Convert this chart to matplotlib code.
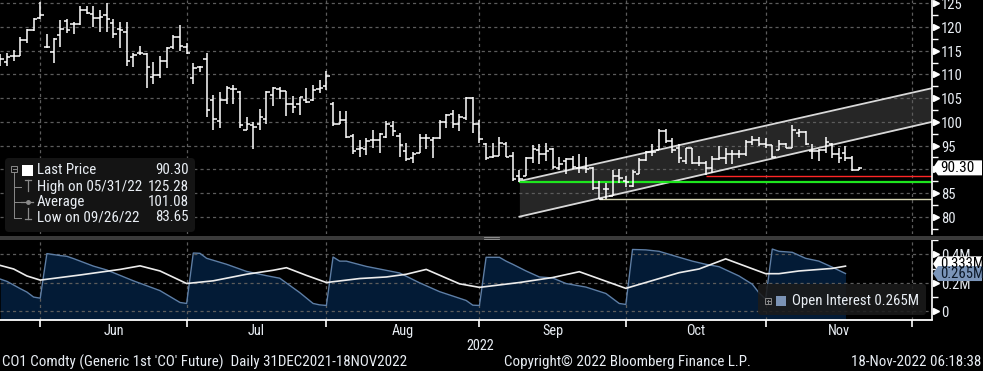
import matplotlib
matplotlib.use("Agg")
import matplotlib.pyplot as plt
import matplotlib.transforms as mtrans
from matplotlib import font_manager
from matplotlib.patches import FancyBboxPatch, Polygon, Rectangle
from matplotlib.lines import Line2D
from matplotlib.ticker import MultipleLocator
import numpy as np
import pandas as pd


def first_font(names):
    for name in names:
        try:
            font_manager.findfont(name, fallback_to_default=False)
            return name
        except ValueError:
            continue
    return "DejaVu Sans"


FONT = first_font(["Liberation Sans Narrow", "Roboto Condensed", "DejaVu Sans"])
plt.rcParams["font.family"] = [FONT, "DejaVu Sans"]

# --- data: CO1 daily bars, 23 May 2022 .. 18 Nov 2022 ---
first_day, last_axis_day = "2022-05-23", "2022-11-30"
opens = [113.28, 112.57, 113.98, 113.98, 117.30, 119.28, 121.96, 115.89, 114.69, 118.22,
         121.26, 120.55, 120.55, 123.52, 122.67, 121.96, 122.46, 120.83, 119.63, 118.93,
         113.63, 114.48, 114.34, 109.39, 109.96, 112.78, 115.75, 117.87, 115.75, 109.25,
         111.51, 113.28, 104.59, 100.25, 104.60, 106.90, 106.21, 98.23, 99.36, 99.65,
         100.56, 105.72, 106.92, 106.43, 103.74, 103.74, 104.59, 104.59, 106.92, 107.63,
         103.74, 99.65, 100.36, 97.04, 94.21, 94.21, 96.12, 96.12, 96.83, 99.16,
         97.04, 93.86, 92.31, 93.51, 96.54, 96.12, 96.54, 100.07, 101.63, 99.65,
         100.78, 105.02, 99.65, 95.41, 92.59, 92.80, 95.41, 92.80, 88.56, 88.56,
         92.31, 94.06, 93.29, 94.21, 90.19, 91.74, 92.09, 90.19, 90.19, 90.19,
         85.95, 85.74, 84.33, 88.56, 87.50, 86.47, 89.00, 91.88, 93.72, 94.00,
         98.09, 95.97, 94.42, 91.74, 94.42, 91.38, 91.38, 90.18, 92.09, 92.30,
         93.29, 93.15, 93.15, 95.83, 96.11, 95.41, 95.13, 94.00, 95.27, 94.56,
         97.60, 97.95, 93.86, 93.86, 94.00, 95.27, 93.29, 93.40, 92.44, 89.90]
highs = [114.34, 114.55, 115.18, 117.87, 119.63, 121.96, 125.28, 118.57, 117.66, 121.40,
         121.75, 121.05, 124.36, 124.36, 124.36, 123.52, 125.07, 121.75, 121.05, 121.05,
         114.48, 116.10, 114.48, 112.57, 113.98, 115.89, 118.22, 120.34, 116.60, 112.36,
         111.86, 114.55, 105.72, 106.37, 107.56, 107.78, 106.43, 101.06, 100.07, 102.68,
         106.43, 107.42, 107.42, 106.57, 105.51, 105.16, 107.13, 107.84, 108.83, 110.66,
         104.24, 102.33, 102.33, 97.39, 96.12, 96.54, 98.24, 97.74, 100.22, 100.22,
         97.74, 95.62, 93.72, 97.39, 97.53, 96.83, 100.36, 101.63, 102.48, 101.63,
         105.30, 105.30, 100.36, 95.62, 95.62, 96.83, 95.83, 93.72, 89.76, 92.59,
         95.13, 95.41, 95.62, 94.57, 92.59, 92.31, 92.80, 93.29, 92.59, 90.47,
         87.50, 87.15, 89.76, 89.98, 88.56, 89.85, 92.31, 93.86, 95.27, 98.45,
         98.45, 96.68, 95.27, 94.56, 94.56, 92.80, 91.74, 92.80, 94.92, 94.42,
         94.00, 94.00, 96.11, 97.03, 96.82, 96.54, 95.13, 96.11, 95.62, 99.36,
         98.45, 98.09, 95.27, 94.21, 96.82, 95.62, 94.56, 94.92, 92.80, 90.47]
lows = [111.72, 111.72, 112.92, 113.98, 116.67, 119.14, 121.75, 115.54, 112.36, 115.89,
        118.79, 118.57, 120.34, 122.67, 119.99, 118.93, 118.93, 117.73, 115.61, 111.72,
        111.51, 114.19, 107.13, 107.98, 109.25, 111.30, 115.40, 115.04, 114.34, 107.98,
        110.45, 101.06, 98.31, 98.64, 103.77, 103.77, 98.80, 98.23, 94.35, 98.23,
        99.51, 103.39, 104.80, 101.27, 101.84, 101.48, 103.95, 104.45, 106.00, 106.78,
        99.15, 99.51, 96.54, 93.15, 92.66, 93.01, 94.57, 93.51, 96.54, 97.04,
        92.59, 91.74, 91.39, 93.51, 94.21, 92.31, 96.33, 98.80, 98.80, 98.10,
        100.36, 97.74, 95.62, 91.88, 92.45, 92.80, 92.59, 87.50, 87.36, 88.56,
        91.39, 91.03, 91.74, 89.98, 89.76, 88.92, 89.98, 89.27, 89.27, 85.53,
        83.65, 83.83, 84.33, 87.15, 86.23, 86.30, 89.00, 91.74, 92.80, 94.00,
        95.62, 93.50, 91.38, 91.03, 91.03, 90.68, 88.77, 89.27, 91.88, 91.17,
        91.17, 92.30, 92.80, 95.13, 94.92, 94.42, 92.30, 94.00, 94.42, 94.42,
        96.82, 95.13, 92.09, 91.74, 93.50, 92.44, 91.38, 91.74, 89.62, 89.76]
closes = [113.28, 113.63, 113.98, 117.30, 119.28, 121.75, 122.60, 115.89, 117.51, 119.63,
          119.42, 120.55, 123.52, 122.95, 121.96, 122.10, 121.75, 118.57, 119.42, 112.78,
          114.19, 114.48, 111.51, 109.96, 112.78, 115.61, 117.87, 116.10, 114.55, 111.30,
          111.51, 102.47, 100.56, 104.60, 107.07, 106.86, 99.34, 99.55, 98.94, 101.10,
          106.21, 107.13, 106.57, 103.74, 103.18, 105.16, 104.10, 106.71, 107.13, 109.75,
          99.65, 100.36, 96.83, 93.86, 94.57, 95.98, 96.12, 97.39, 99.65, 98.10,
          95.13, 92.09, 93.29, 96.54, 96.54, 96.54, 100.07, 101.42, 99.65, 100.92,
          105.02, 99.51, 96.33, 92.31, 92.80, 95.62, 92.59, 87.86, 87.86, 92.31,
          94.21, 93.29, 93.86, 90.47, 91.17, 92.09, 90.47, 90.19, 89.98, 85.95,
          83.83, 85.74, 88.56, 88.21, 87.36, 89.50, 91.96, 93.72, 93.72, 98.09,
          95.97, 94.00, 92.30, 94.42, 91.38, 91.38, 90.18, 92.09, 92.30, 93.29,
          93.15, 93.15, 95.83, 96.11, 95.41, 95.13, 92.58, 95.27, 94.56, 98.23,
          97.95, 95.27, 93.86, 94.00, 95.83, 93.29, 92.30, 92.44, 89.76, 90.30]

# trend channel and levels (bar index, price)
chan_x = [78, 140]
chan_upper = [87.5, 107.1]
chan_lower = [80.0, 100.0]
green_level, green_from = 87.3, 78
red_level, red_from = 88.6, 106
low_level, low_from = 83.65, 90

# open interest (bar index, millions)
oi_x = [0, 1, 3, 4, 5, 6, 7, 9, 10, 11, 14, 16, 20, 24, 27, 28, 29, 30, 31, 34, 37, 40, 42,
        45, 47, 48, 49, 50, 51, 52, 55, 60, 63, 66, 70, 71, 72, 73, 75, 76, 77, 79, 81, 83,
        85, 88, 91, 93, 94, 95, 97, 99, 102, 104, 106, 108, 111, 113, 114, 115, 116, 117,
        119, 121, 123, 125, 127]
oi_val = [0.226, 0.21, 0.159, 0.135, 0.10, 0.092, 0.405, 0.391, 0.386, 0.37, 0.317, 0.29,
          0.214, 0.145, 0.062, 0.055, 0.409, 0.407, 0.372, 0.33, 0.28, 0.25, 0.232, 0.131,
          0.055, 0.045, 0.041, 0.381, 0.352, 0.352, 0.315, 0.269, 0.200, 0.138, 0.076, 0.043,
          0.041, 0.379, 0.379, 0.352, 0.33, 0.283, 0.241, 0.234, 0.195, 0.17, 0.125, 0.055,
          0.048, 0.434, 0.431, 0.421, 0.379, 0.352, 0.33, 0.313, 0.248, 0.19, 0.13, 0.085,
          0.437, 0.421, 0.414, 0.372, 0.352, 0.310, 0.265]
oi2_x = [0, 2, 4, 6, 12, 18, 21, 24, 28, 32, 37, 41, 43, 46, 49, 54, 58, 61, 64, 69, 72, 78,
         83, 87, 94, 102, 105, 109, 115, 117, 120, 125, 127]
oi2_val = [0.322, 0.297, 0.248, 0.219, 0.255, 0.294, 0.319, 0.283, 0.195, 0.214, 0.260,
           0.288, 0.306, 0.252, 0.202, 0.230, 0.241, 0.260, 0.294, 0.193, 0.168, 0.202,
           0.237, 0.278, 0.161, 0.271, 0.297, 0.368, 0.264, 0.264, 0.283, 0.301, 0.317]

price_ticks = [80, 85, 90, 95, 100, 105, 110, 115, 120, 125]
oi_ticks = [0, 0.2, 0.4]
oi_tick_labels = ["0", "0.2M", "0.4M"]

W, H = 983, 371
BG = "black"
GRID = "#5c5c5c"
TXT = "#e9eef4"
fig = plt.figure(figsize=(W / 100, H / 100), dpi=100, facecolor=BG)


def rect(x0, y0, x1, y1):
    return [x0 / W, 1 - y1 / H, (x1 - x0) / W, (y1 - y0) / H]


ax = fig.add_axes(rect(0, 0, 932, 234))
ax2 = fig.add_axes(rect(0, 240, 932, 319.5))

days = pd.bdate_range(first_day, last_axis_day)
month_ends = [i for i in range(len(days) - 1) if days[i].month != days[i + 1].month]
month_ends.append(len(days) - 1)
month_mid = [(a + b) / 2 for a, b in zip(month_ends[:-1], month_ends[1:])]
month_names = [days[b].strftime("%b") for b in month_ends[1:]]

for a in (ax, ax2):
    a.set_facecolor(BG)
    a.set_xlim(-0.045, 140.0)
    for s in ("left", "top", "bottom"):
        a.spines[s].set_visible(False)
    a.spines["right"].set_color("white")
    a.spines["right"].set_linewidth(1.2)
    a.set_xticks([])
    for m in month_ends:
        a.axvline(m, color=GRID, lw=0.9, ls=(0, (2.5, 2.5)), zorder=1)

ax.set_ylim(76.35, 125.70)
ax2.set_ylim(-0.0575, 0.5004)

# price panel
idx = np.arange(len(closes))
ax.fill_between(chan_x, chan_lower, chan_upper, color="#262626", lw=0, zorder=0.5)
ax.plot(chan_x, chan_upper, color="#d8d8d8", lw=1.3, zorder=2)
ax.plot(chan_x, chan_lower, color="#d8d8d8", lw=1.3, zorder=2)
for v in price_ticks:
    ax.axhline(v, color=GRID, lw=0.9, ls=(0, (2.5, 2.5)), zorder=1)
ax.hlines(low_level, low_from, 140, color="#d8d8b4", lw=1.0, zorder=2)
ax.hlines(red_level, red_from, 140, color="#ff2626", lw=1.0, zorder=2)
ax.hlines(green_level, green_from, 140, color="#1ee61e", lw=1.6, zorder=2)
ax.vlines(idx, lows, highs, color="white", lw=1.1, zorder=3)
ax.hlines(opens, idx - 0.5, idx, color="white", lw=1.1, zorder=3)
ax.hlines(closes, idx, idx + 0.5, color="white", lw=1.1, zorder=3)

# open interest panel
ax2.fill_between(oi_x, oi_val, -0.0575, color="#031b36", lw=0, zorder=0.5)
for v in oi_ticks:
    ax2.axhline(v, color=GRID, lw=0.9, ls=(0, (2.5, 2.5)), zorder=1)
ax2.plot(oi_x, oi_val, color="#5d7ea6", lw=1.0, zorder=2)
ax2.plot(oi2_x, oi2_val, color="#ececec", lw=1.2, zorder=3)
ax2.spines["bottom"].set_visible(True)
ax2.spines["bottom"].set_color("white")
ax2.spines["bottom"].set_linewidth(1.3)
ax2.set_xticks(month_ends)
ax2.tick_params(axis="x", direction="out", length=5, width=1.2, color="white", labelbottom=False)

# right axes: arrow ticks, minor ticks, labels (the label under the last-price tag is hidden)
hidden = {round(closes[-1] / 5) * 5}
shift = mtrans.ScaledTranslation(0, -0.02, fig.dpi_scale_trans)
for a, ticks, labels, minor in ((ax, price_ticks, [str(t) for t in price_ticks], 2.5),
                                (ax2, oi_ticks, oi_tick_labels, 0.1)):
    a.yaxis.set_ticks_position("right")
    a.set_yticks(ticks)
    a.yaxis.set_minor_locator(MultipleLocator(minor))
    a.tick_params(axis="y", which="major", length=0, labelright=False)
    a.tick_params(axis="y", which="minor", length=4, width=1, color="white")
    tr = mtrans.blended_transform_factory(a.transAxes, a.transData)
    a.plot([1.0038] * len(ticks), ticks, ls="none", marker=">", ms=4.5, color="white",
           transform=tr, clip_on=False, zorder=5)
    for t, l in zip(ticks, labels):
        if a is ax and t in hidden:
            continue
        a.text(1.0097, t, l, transform=tr + shift, ha="left", va="center", fontsize=10.5,
               color=TXT, clip_on=False)

ident = mtrans.IdentityTransform()


def add(artist):
    artist.set_transform(ident)
    fig.add_artist(artist)
    return artist


def ftext(x, y, s, **kw):
    kw.setdefault("color", TXT)
    kw.setdefault("va", "center")
    return fig.text(x / W, 1 - y / H, s, **kw)


def value_tag(axis, value, text, face, tcolor, size=10.5):
    yc = axis.transData.transform((0, value))[1]
    pts = [(933, yc), (938, yc + 7.5), (982, yc + 7.5), (982, yc - 7.5), (938, yc - 7.5)]
    add(Polygon(pts, closed=True, fc=face, ec="none", zorder=6))
    fig.text(940 / W, yc / H, text, ha="left", va="center", fontsize=size, color=tcolor, zorder=7)


value_tag(ax, closes[-1], f"{closes[-1]:.2f}", "white", "black", 11)
value_tag(ax2, 0.333, "0.333M", "white", "black")
value_tag(ax2, oi_val[-1], f"{oi_val[-1]:.3f}M", "#7b95b9", "#0b1828")

# separator between panels
add(Rectangle((0, H - 240), W, 4, fc="#3a3a3a", ec="none", zorder=4))
for yy in (237.2, 238.8):
    add(Line2D([484, 499], [H - yy, H - yy], color="#9a9a9a", lw=0.6, zorder=5))

# price legend
add(FancyBboxPatch((5, H - 232), 190, 74, boxstyle="round,pad=0,rounding_size=4",
                   fc="#141414", ec="none", zorder=4))
rows = [("Last Price", f"{closes[-1]:.2f}", 170),
        ("High on 05/31/22", f"{max(highs):.2f}", 186.5),
        ("Average", "101.08", 202),
        ("Low on 09/26/22", f"{min(lows):.2f}", 217.5)]
for name, val, yy in rows:
    ftext(37, yy, name, fontsize=10.8, ha="left", zorder=5)
    ftext(189, yy, val, fontsize=10.8, ha="right", zorder=5)
gray = "#8a8a8a"
add(Rectangle((11, H - 172), 6, 6, fc="none", ec=gray, lw=0.7, zorder=5))
add(Line2D([12.5, 15.5], [H - 169, H - 169], color=gray, lw=0.7, zorder=5))
add(Line2D([14, 14], [H - 172, H - 217.5], color=gray, lw=0.7, zorder=5))
for yy in (186.5, 202, 217.5):
    add(Line2D([14, 21], [H - yy, H - yy], color=gray, lw=0.7, zorder=5))
add(Rectangle((22, H - 176), 11, 11, fc="white", ec="none", zorder=5))
add(Line2D([25, 31], [H - 180, H - 180], color=gray, lw=0.9, zorder=5))
add(Line2D([28, 28], [H - 180, H - 191], color=gray, lw=0.9, zorder=5))
add(Line2D([21, 33], [H - 202, H - 202], color=gray, lw=0.9, zorder=5))
add(Line2D([27.5], [H - 202], color=gray, marker="o", ms=2.5, zorder=5))
add(Line2D([28, 28], [H - 208, H - 219], color=gray, lw=0.9, zorder=5))
add(Line2D([25, 31], [H - 219, H - 219], color=gray, lw=0.9, zorder=5))

# open interest legend
add(FancyBboxPatch((758, H - 315), 168, 31, boxstyle="round,pad=0,rounding_size=3",
                   fc="#1b1b1b", ec="none", alpha=0.88, zorder=4))
add(Rectangle((765, H - 304), 6, 6, fc="none", ec=gray, lw=0.7, zorder=5))
add(Line2D([766.5, 769.5], [H - 301, H - 301], color=gray, lw=0.7, zorder=5))
add(Line2D([768, 768], [H - 299.5, H - 302.5], color=gray, lw=0.7, zorder=5))
add(Rectangle((775.5, H - 306), 10.5, 10.5, fc="#7b93b5", ec="none", zorder=5))
ftext(792, 300.5, f"Open Interest {oi_val[-1]:.3f}M", fontsize=10.7, ha="left", zorder=5)

# month labels and footer
for m, name in zip(month_mid, month_names):
    xpix = ax2.transData.transform((m, 0))[0]
    ftext(xpix, 331, name, fontsize=10.3, ha="center")
ftext(480, 346, "2022", fontsize=10.3, ha="center")
ftext(2, 362, "CO1 Comdty (Generic 1st 'CO' Future)  Daily 31DEC2021-18NOV2022",
      fontsize=10.8, ha="left")
ftext(627, 362, "Copyright\u00a9 2022 Bloomberg Finance L.P.", fontsize=10.8, ha="center")
ftext(981, 362, "18-Nov-2022 06:18:38", fontsize=10.8, ha="right")

fig.savefig("out.png", dpi=100, facecolor=BG)
